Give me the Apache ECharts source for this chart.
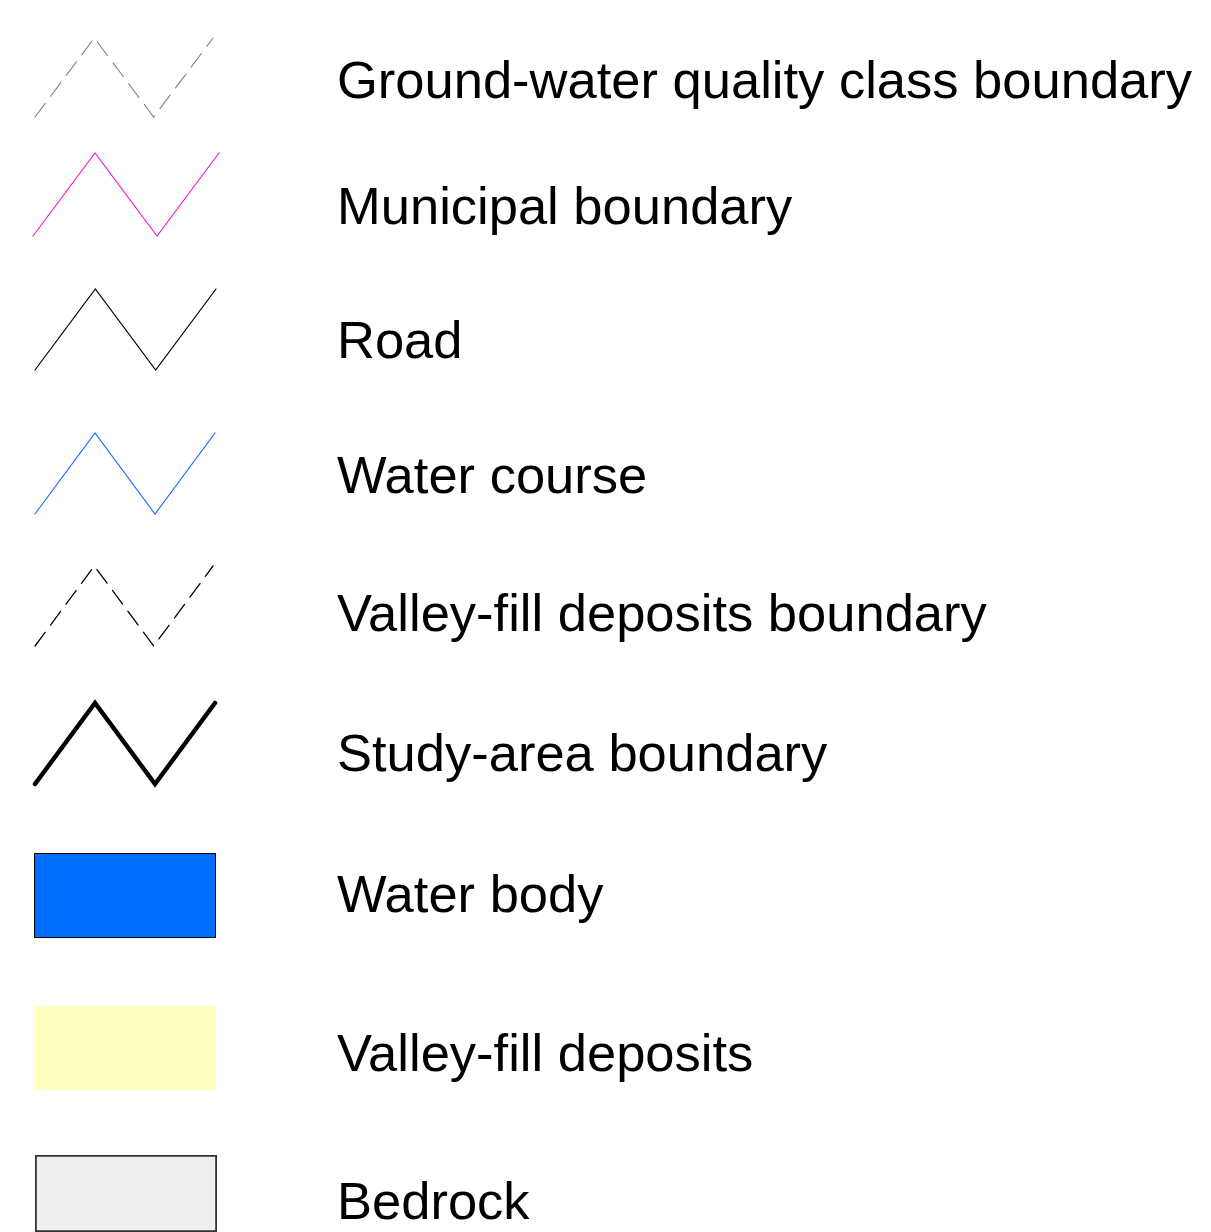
<!DOCTYPE html>
<html>
<head>
<meta charset="utf-8">
<script src="https://cdn.jsdelivr.net/npm/echarts@6/dist/echarts.min.js"></script>
<style>
html,body{margin:0;padding:0;background:#fff;}
#c{width:1211px;height:1232px;}
</style>
</head>
<body>
<div id="c"></div>
<script>
// ---- data ----
const labels = [
  'Ground-water quality class boundary',
  'Municipal boundary',
  'Road',
  'Water course',
  'Valley-fill deposits boundary',
  'Study-area boundary',
  'Water body',
  'Valley-fill deposits',
  'Bedrock'
];
const kinds = ['line','line','line','line','line','line','rect','rect','rect'];
const zigX = [0, 1, 2, 3];
const zigY = [0, 1, 0, 1];
const rectValue = [1];

// ---- styles / layout ----
const styles = [
  {color:'#808080', width:1.1, dash:[17,9]},
  {color:'#ff1ecb', width:1.2},
  {color:'#000000', width:1.2},
  {color:'#1a6cff', width:1.2},
  {color:'#000000', width:1.3, dash:[17,9]},
  {color:'#000000', width:4.5},
  {fill:'#006eff', border:'#000000', bw:1},
  {fill:'#ffffc0', border:null, bw:0},
  {fill:'#efefef', border:'#333333', bw:1.8}
];
const boxes = [
  {left:35, width:178, top:38, height:79},
  {left:33, width:186, top:153, height:83},
  {left:35, width:181, top:289, height:81},
  {left:35, width:180, top:433, height:81},
  {left:35, width:178, top:566, height:80},
  {left:35, width:180, top:703, height:81},
  {left:34, width:182, top:853, height:85},
  {left:34, width:182, top:1006, height:84},
  {left:35, width:182, top:1155, height:85}
];
const textY = [84, 210, 344, 479, 617, 757, 898, 1057, 1205];
const FONT = '"Liberation Sans", Arial, sans-serif';

const grids = [], xAxes = [], yAxes = [], series = [], graphics = [];
labels.forEach((lab, i) => {
  const b = boxes[i];
  grids.push({left:b.left, top:b.top, width:b.width, height:b.height, containLabel:false});
  const s = styles[i];
  if (kinds[i] === 'line') {
    xAxes.push({type:'value', gridIndex:i, min:0, max:3, show:false});
    yAxes.push({type:'value', gridIndex:i, min:0, max:1, show:false});
    series.push({
      type:'line', xAxisIndex:i, yAxisIndex:i, clip:false, silent:true,
      symbol:'none', animation:false,
      data: zigX.map((x, k) => [x, zigY[k]]),
      lineStyle:{color:s.color, width:s.width, type: s.dash ? s.dash : 'solid', cap:'round', join:'miter'}
    });
  } else {
    xAxes.push({type:'category', gridIndex:i, data:['a'], show:false, boundaryGap:true});
    yAxes.push({type:'value', gridIndex:i, min:0, max:1, show:false});
    series.push({
      type:'bar', xAxisIndex:i, yAxisIndex:i, silent:true, animation:false,
      barWidth:'100%', data: rectValue,
      itemStyle:{color:s.fill, borderColor:s.border || 'transparent', borderWidth:s.bw}
    });
  }
  graphics.push({
    type:'text', x:337, y:textY[i], silent:true,
    style:{text:lab, fill:'#000', font:'52.5px ' + FONT,
      fontSize:52.5, fontFamily:FONT,
      align:'left', verticalAlign:'middle', textAlign:'left', textVerticalAlign:'middle'}
  });
});

const chart = echarts.init(document.getElementById('c'), null, {renderer:'canvas'});
chart.setOption({
  backgroundColor:'#ffffff',
  animation:false,
  grid:grids, xAxis:xAxes, yAxis:yAxes, series:series,
  graphic:graphics
});
</script>
</body>
</html>
